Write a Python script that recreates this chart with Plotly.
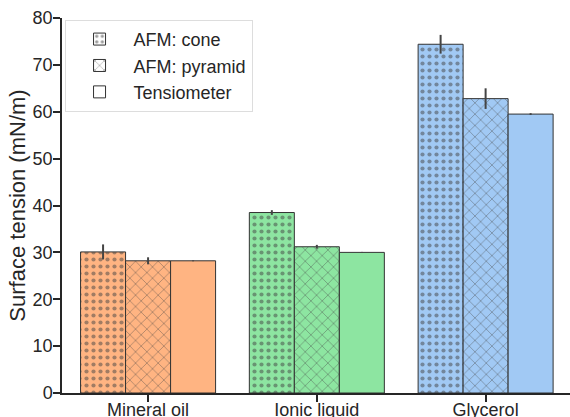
import plotly.graph_objects as go

categories = ["Mineral oil", "Ionic liquid", "Glycerol"]
series = ["AFM: cone", "AFM: pyramid", "Tensiometer"]
cone = [30.1, 38.5, 74.4]
cone_err = [1.6, 0.5, 2.0]
pyramid = [28.2, 31.2, 62.8]
pyramid_err = [0.75, 0.4, 2.2]
tensio = [28.2, 30.0, 59.5]
tensio_err = [0.1, 0.1, 0.2]
cat_colors = ["#FFB482", "#8DE5A1", "#A1C9F4"]
shapes = [".", "x", ""]
sizes = [7, 8, 8]
solid = [0.28, 0.18, 0.2]

fig = go.Figure()
vals = [cone, pyramid, tensio]
errs = [cone_err, pyramid_err, tensio_err]
for i, name in enumerate(series):
    fig.add_trace(go.Bar(
        x=categories, y=vals[i], name=name, showlegend=False,
        offsetgroup=str(i),
        marker=dict(color=cat_colors, line=dict(color="#333333", width=1),
                    pattern=dict(shape=shapes[i], fgcolor="#3a3a3a", size=sizes[i], solidity=solid[i])),
        error_y=dict(type="data", array=errs[i], color="#444444", thickness=2, width=0),
    ))
for i, name in enumerate(series):
    fig.add_trace(go.Bar(
        x=[categories[0]], y=[None], name=name, showlegend=True,
        offsetgroup=str(i),
        marker=dict(color="white", line=dict(color="#333333", width=1),
                    pattern=dict(shape=shapes[i], fgcolor="#3a3a3a", size=sizes[i], solidity=solid[i])),
    ))

fig.update_layout(
    width=570, height=417,
    margin=dict(l=62, r=0, t=18, b=24),
    barmode="group", bargap=0.2, bargroupgap=0,
    plot_bgcolor="white", paper_bgcolor="white",
    font=dict(family="Liberation Sans, Arial, sans-serif", size=18, color="#262626"),
    legend=dict(x=0.005, y=0.995, xanchor="left", yanchor="top", itemwidth=58,
                bgcolor="rgba(255,255,255,0.8)", bordercolor="#DDDDDD", borderwidth=1,
                font=dict(size=18), tracegroupgap=0),
    xaxis=dict(range=[-0.51, 2.5], showline=True, linecolor="#262626", linewidth=1.5,
               ticks="outside", ticklen=7, tickwidth=1.5, tickcolor="#262626", showgrid=False,
               ticklabelstandoff=-7, automargin=False),
    yaxis=dict(range=[0, 80], dtick=10, showline=True, linecolor="#262626", linewidth=1.5,
               ticks="outside", ticklen=7, tickwidth=1.5, tickcolor="#262626", showgrid=False,
               zeroline=False, automargin=False, ticklabelstandoff=-3,
               title=dict(text="Surface tension (mN/m)", standoff=1)),
)
fig.write_html("out.html")
